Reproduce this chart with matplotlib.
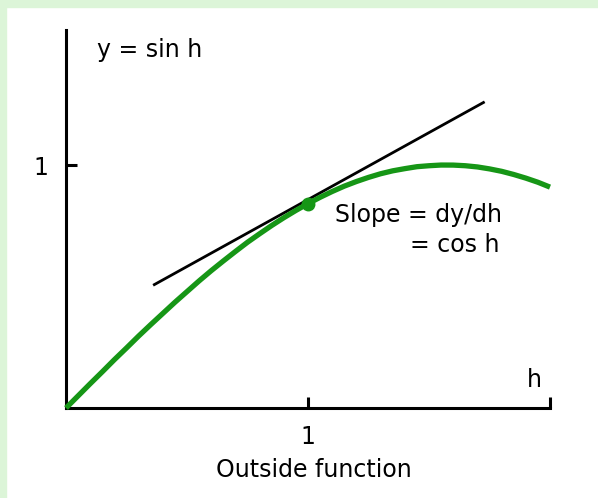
import matplotlib
matplotlib.use("Agg")
import matplotlib.pyplot as plt
from matplotlib.patches import Rectangle

# ---- data ----
h_vals = [0.0, 0.05, 0.1, 0.15, 0.2, 0.25, 0.3, 0.35, 0.4, 0.45, 0.5,
          0.55, 0.6, 0.65, 0.7, 0.75, 0.8, 0.85, 0.9, 0.95, 1.0,
          1.05, 1.1, 1.15, 1.2, 1.25, 1.3, 1.35, 1.4, 1.45, 1.5,
          1.55, 1.6, 1.65, 1.7, 1.75, 1.8, 1.85, 1.9, 1.95, 2.0]
y_vals = [0.0, 0.050, 0.100, 0.149, 0.199, 0.247, 0.296, 0.343, 0.389, 0.435, 0.479,
          0.523, 0.565, 0.605, 0.644, 0.682, 0.717, 0.751, 0.783, 0.813, 0.841,
          0.867, 0.891, 0.913, 0.932, 0.949, 0.964, 0.976, 0.985, 0.993, 0.997,
          0.9998, 0.9996, 0.997, 0.992, 0.984, 0.974, 0.961, 0.946, 0.929, 0.909]
tangent_h = [0.36, 1.73]
tangent_y = [0.505, 1.26]
point_h = [1.0]
point_y = [0.841]
xticks = [1, 2]
xtick_labels = ["1", ""]
yticks = [1]
ytick_labels = ["1"]

W, H = 598, 498
fig = plt.figure(figsize=(W / 100, H / 100), dpi=100)
fig.patch.set_facecolor("white")

# light green frame (top and left)
bg = "#dcf5d8"
fig.patches.append(Rectangle((0, 0), 6 / W, 1, transform=fig.transFigure, color=bg, zorder=0))
fig.patches.append(Rectangle((0, 1 - 7 / H), 1, 7 / H, transform=fig.transFigure, color=bg, zorder=0))

x0, y0 = 66, 408
ux, uy = 242, 243
xmax, ymax = 2.0, (y0 - 30) / uy
ax = fig.add_axes([x0 / W, (H - y0) / H, xmax * ux / W, ymax * uy / H])
ax.set_xlim(0, xmax)
ax.set_ylim(0, ymax)
ax.set_facecolor("none")
for s in ["top", "right"]:
    ax.spines[s].set_visible(False)
for s in ["left", "bottom"]:
    ax.spines[s].set_linewidth(2.2)
    ax.spines[s].set_capstyle("projecting")

fs = 17
font = "DejaVu Sans"
ax.set_xticks(xticks)
ax.set_xticklabels(xtick_labels, fontsize=fs, family=font)
ax.set_yticks(yticks)
ax.set_yticklabels(ytick_labels, fontsize=fs, family=font)
ax.tick_params(direction="in", length=8, width=2.2)
ax.tick_params(axis="x", pad=12)
ax.tick_params(axis="y", pad=13)

ax.plot(h_vals, y_vals, color="#169616", lw=3.8, solid_capstyle="butt", clip_on=False, zorder=3)
ax.plot(tangent_h, tangent_y, color="black", lw=2.0, solid_capstyle="butt", clip_on=False, zorder=2)
ax.plot(point_h, point_y, "o", color="#169616", ms=9, clip_on=False, zorder=4)

ax.text(0.128, 1.473, "y = sin h", fontsize=fs, family=font, va="center", ha="left")
ax.text(1.112, 0.794, "Slope = dy/dh", fontsize=fs, family=font, va="center", ha="left")
ax.text(1.421, 0.671, "= cos h", fontsize=fs, family=font, va="center", ha="left")
ax.text(1.905, 0.115, "h", fontsize=fs, family=font, va="center", ha="left")
ax.text(1.025, -0.255, "Outside function", fontsize=fs, family=font, va="center", ha="center")

fig.savefig("out.png", dpi=100)
